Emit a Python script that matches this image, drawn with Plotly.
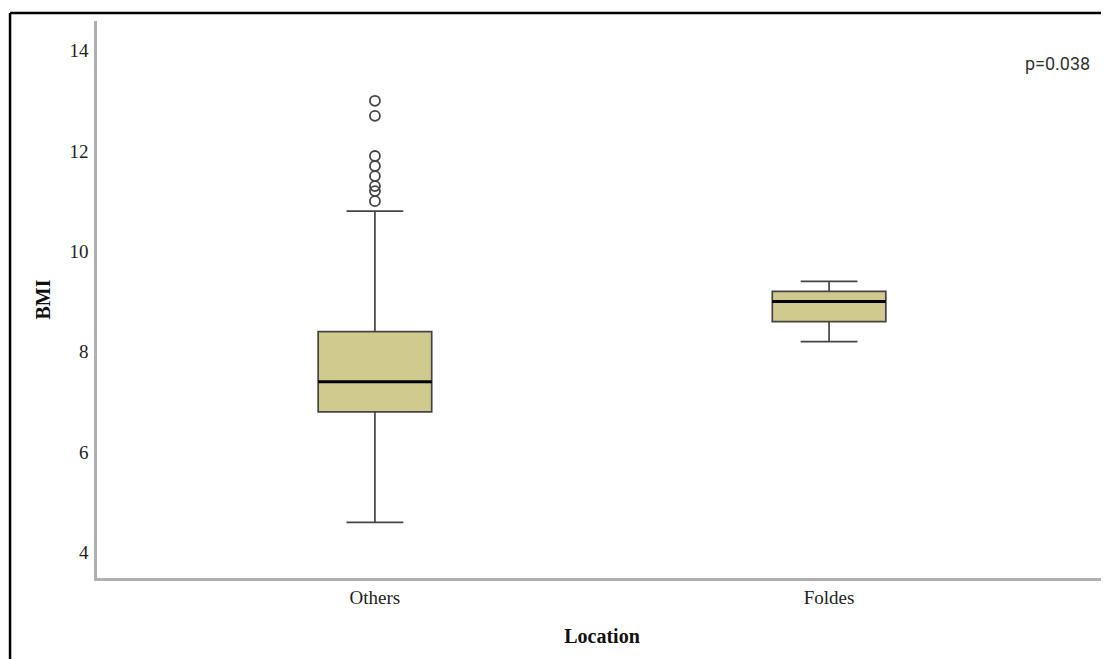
import plotly.graph_objects as go

categories = ["Others", "Foldes"]
q1 = [6.8, 8.6]
median = [7.4, 9.0]
q3 = [8.4, 9.2]
lower_whisker = [4.6, 8.2]
upper_whisker = [10.8, 9.4]
outliers_others = [13.0, 12.7, 11.9, 11.7, 11.5, 11.3, 11.2, 11.0]
y_ticks = [4, 6, 8, 10, 12, 14]
p_text = "p=0.038"

BOX_W = 0.25
fill = "#d0ca8e"
edge = "#444444"

fig = go.Figure()
fig.add_trace(go.Box(
    x=categories, q1=q1, median=median, q3=q3,
    lowerfence=lower_whisker, upperfence=upper_whisker,
    fillcolor=fill, line=dict(color=edge, width=1.7),
    width=BOX_W, whiskerwidth=0.5, boxpoints=False, showlegend=False,
))
fig.add_trace(go.Scatter(
    x=[categories[0]] * len(outliers_others), y=outliers_others,
    mode="markers",
    marker=dict(symbol="circle-open", size=10, color="#444444", line=dict(width=1.8)),
    showlegend=False,
))

# thick median lines
for i, m in enumerate(median):
    fig.add_shape(type="line", xref="x", yref="y",
                  x0=i - BOX_W / 2, x1=i + BOX_W / 2, y0=m, y1=m,
                  line=dict(color="black", width=3))

# outer frame (top and left)
fig.add_shape(type="line", xref="paper", yref="paper",
              x0=-0.0861, x1=1.2, y0=1.0144, y1=1.0144,
              line=dict(color="black", width=2.5))
fig.add_shape(type="line", xref="paper", yref="paper",
              x0=-0.0861, x1=-0.0861, y0=1.0144, y1=-0.3,
              line=dict(color="black", width=2.5))

fig.add_annotation(text=p_text, xref="paper", yref="paper",
                   x=0.985, y=0.924, xanchor="right", yanchor="middle",
                   showarrow=False,
                   font=dict(family="Roboto, Arial, sans-serif", size=18, color="#333333"))

serif = "Liberation Serif, Times New Roman, serif"
fig.update_layout(
    width=1101, height=651,
    margin=dict(l=89, r=2, t=13, b=81),
    paper_bgcolor="white", plot_bgcolor="white",
    xaxis=dict(
        type="category", range=[-0.612, 1.612],
        showline=True, linecolor="#b0b0b0", linewidth=2.5,
        showgrid=False, zeroline=False, ticks="", ticklabelstandoff=0,
        tickfont=dict(family=serif, size=19, color="#222222"),
        title=dict(text="<b>Location</b>", font=dict(family=serif, size=20, color="#111111"), standoff=23),
    ),
    yaxis=dict(
        range=[3.49, 14.59], tickvals=y_ticks,
        showline=True, linecolor="#b0b0b0", linewidth=2.5,
        showgrid=False, zeroline=False, ticks="", ticklabelstandoff=2,
        tickfont=dict(family=serif, size=19, color="#222222"),
        title=dict(text="<b>BMI</b>", font=dict(family=serif, size=20, color="#111111"), standoff=14),
    ),
)

fig.write_html("out.html")
